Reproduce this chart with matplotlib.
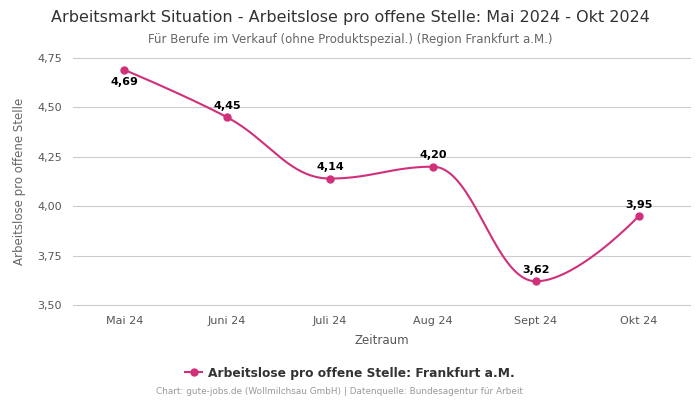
import matplotlib
matplotlib.use("Agg")
import matplotlib.pyplot as plt
import numpy as np

months = ["Mai 24", "Juni 24", "Juli 24", "Aug 24", "Sept 24", "Okt 24"]
values = [4.69, 4.45, 4.14, 4.20, 3.62, 3.95]
label_below = [True, False, False, False, False, False]
y_ticks = [3.50, 3.75, 4.00, 4.25, 4.50, 4.75]

color = "#d0307a"


def spline(xs, ys, smoothing=1.5, steps=40):
    # bezier spline through points, highcharts style
    n = len(xs)
    left = [(xs[i], ys[i]) for i in range(n)]
    right = [(xs[i], ys[i]) for i in range(n)]
    d = smoothing + 1
    for i in range(1, n - 1):
        px, py = xs[i], ys[i]
        lx, ly = xs[i - 1], ys[i - 1]
        nx, ny = xs[i + 1], ys[i + 1]
        lcx = (smoothing * px + lx) / d
        lcy = (smoothing * py + ly) / d
        rcx = (smoothing * px + nx) / d
        rcy = (smoothing * py + ny) / d
        corr = (rcy - lcy) * (rcx - px) / (rcx - lcx) + py - rcy
        lcy += corr
        rcy += corr
        if lcy > ly and lcy > py:
            lcy = max(ly, py)
            rcy = 2 * py - lcy
        elif lcy < ly and lcy < py:
            lcy = min(ly, py)
            rcy = 2 * py - lcy
        if rcy > ny and rcy > py:
            rcy = max(ny, py)
            lcy = 2 * py - rcy
        elif rcy < ny and rcy < py:
            rcy = min(ny, py)
            lcy = 2 * py - rcy
        left[i] = (lcx, lcy)
        right[i] = (rcx, rcy)
    out_x, out_y = [], []
    t = np.linspace(0, 1, steps)
    for i in range(n - 1):
        p0 = np.array([xs[i], ys[i]])
        p1 = np.array(right[i])
        p2 = np.array(left[i + 1])
        p3 = np.array([xs[i + 1], ys[i + 1]])
        pts = ((1 - t) ** 3)[:, None] * p0 + (3 * (1 - t) ** 2 * t)[:, None] * p1 \
            + (3 * (1 - t) * t ** 2)[:, None] * p2 + (t ** 3)[:, None] * p3
        out_x.extend(pts[:, 0])
        out_y.extend(pts[:, 1])
    return out_x, out_y


x = np.arange(len(months))

fig = plt.figure(figsize=(7, 4), dpi=100)
ax = fig.add_axes([0.104, 0.2375, 0.882, 0.6175])

sx, sy = spline(list(x), values)
ax.plot(sx, sy, color=color, lw=1.5, zorder=3)
ax.plot(x, values, "o", color=color, ms=5, zorder=4)
ax.plot([], [], "-o", color=color, ms=5, lw=1.5, label="Arbeitslose pro offene Stelle: Frankfurt a.M.")

for xi, v, below in zip(x, values, label_below):
    txt = f"{v:.2f}".replace(".", ",")
    ax.annotate(txt, (xi, v), xytext=(0, -12 if below else 4.5), textcoords="offset points",
                ha="center", va="bottom",
                fontsize=8, fontweight="bold", color="black")

ax.set_xlim(-0.5, 5.5)
ax.set_ylim(3.5, 4.75)
ax.set_xticks(x)
ax.set_xticklabels(months)
ax.set_yticks(y_ticks)
ax.set_yticklabels([f"{v:.2f}".replace(".", ",") for v in y_ticks])
ax.tick_params(length=0, labelsize=8, colors="#555555", pad=8)
ax.grid(axis="y", color="#cccccc", lw=0.8)
for gl in ax.get_ygridlines():
    gl.set_clip_on(False)
ax.set_axisbelow(True)
for s in ax.spines.values():
    s.set_visible(False)

ax.set_xlabel("Zeitraum", fontsize=8.5, color="#555555", labelpad=6)
ax.set_ylabel("Arbeitslose pro offene Stelle", fontsize=8.5, color="#666666", labelpad=8)

fig.text(0.5, 0.957, "Arbeitsmarkt Situation - Arbeitslose pro offene Stelle: Mai 2024 - Okt 2024",
         ha="center", va="center", fontsize=11.5, color="#333333")
fig.text(0.5, 0.902, "Für Berufe im Verkauf (ohne Produktspezial.) (Region Frankfurt a.M.)",
         ha="center", va="center", fontsize=8.5, color="#666666")

leg = fig.legend(loc="center", bbox_to_anchor=(0.5, 0.0675), frameon=False,
                 prop={"size": 8.8, "weight": "bold"}, handlelength=1.4, handletextpad=0.5)
for t in leg.get_texts():
    t.set_color("#333333")

fig.text(0.485, 0.02, "Chart: gute-jobs.de (Wollmilchsau GmbH) | Datenquelle: Bundesagentur für Arbeit",
         ha="center", va="center", fontsize=6.4, color="#999999")

fig.savefig("out.png", dpi=100)
